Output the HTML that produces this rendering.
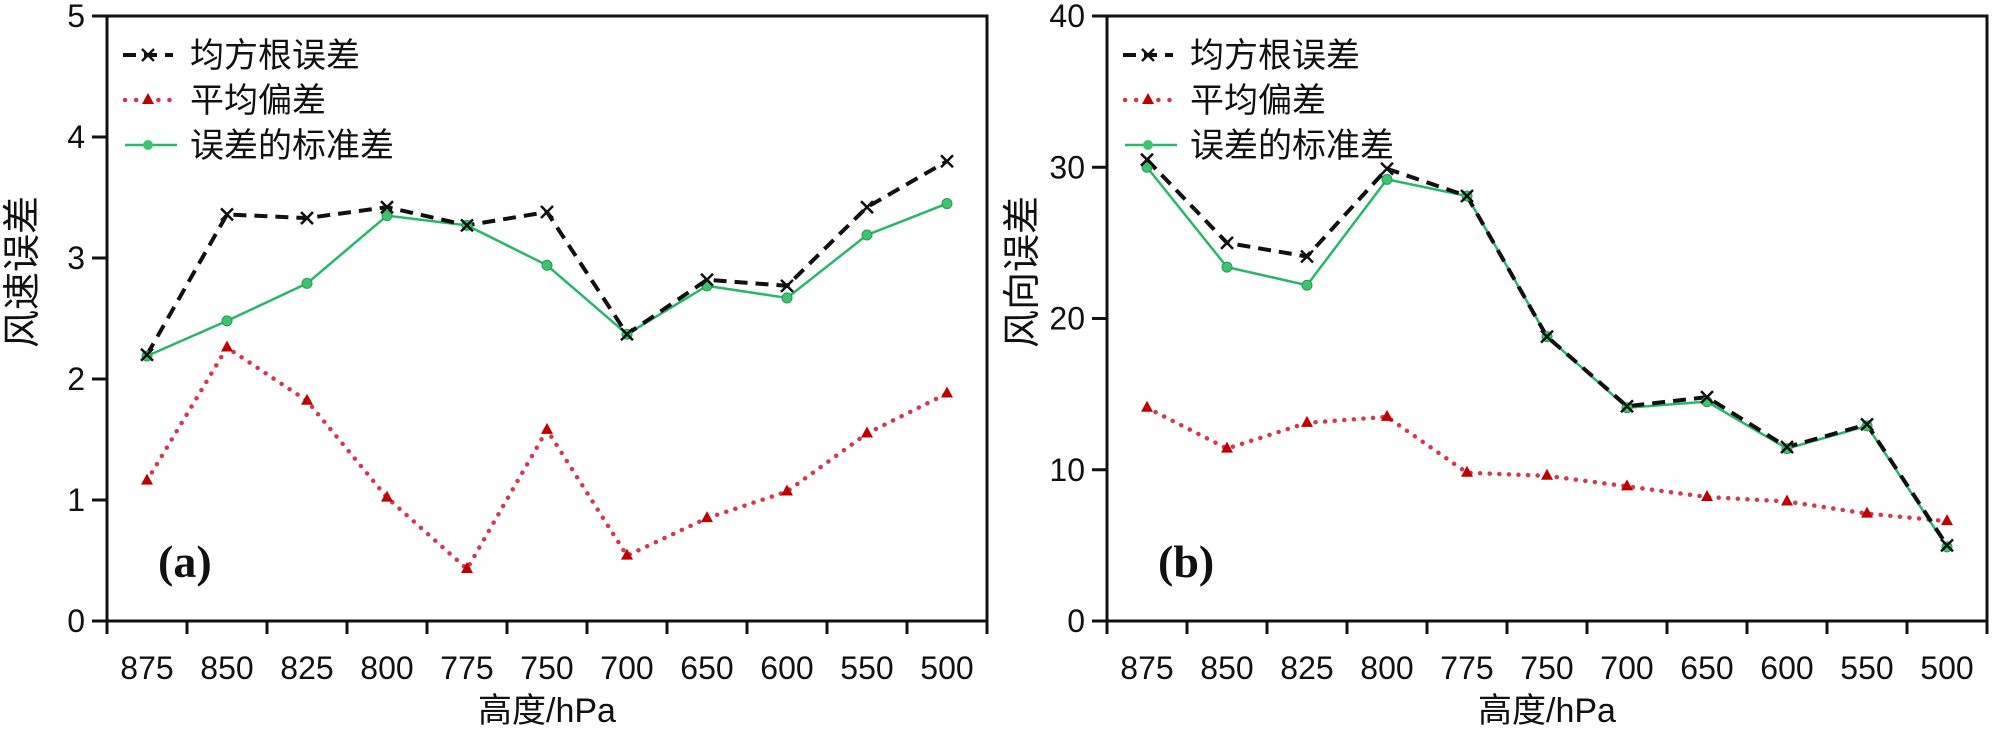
<!DOCTYPE html>
<html><head><meta charset="utf-8">
<style>
html,body{margin:0;padding:0;background:#fff;}
svg{display:block;font-family:"Liberation Sans","Noto Sans CJK SC",sans-serif;}
</style></head>
<body>
<svg id="chart" width="2000" height="732" xmlns="http://www.w3.org/2000/svg"></svg>
<script>
const categories = ["875","850","825","800","775","750","700","650","600","550","500"];
const speedRmse = [2.2,3.36,3.33,3.42,3.27,3.38,2.37,2.82,2.77,3.42,3.8];
const speedBias = [1.16,2.26,1.82,1.02,0.43,1.58,0.54,0.85,1.07,1.55,1.88];
const speedStd  = [2.19,2.48,2.79,3.35,3.27,2.94,2.37,2.77,2.67,3.19,3.45];
const dirRmse = [30.5,25.0,24.1,29.9,28.1,18.8,14.2,14.8,11.5,13.0,5.0];
const dirBias = [14.1,11.4,13.1,13.5,9.8,9.6,8.9,8.2,7.9,7.1,6.6];
const dirStd  = [30.0,23.4,22.2,29.2,28.1,18.8,14.1,14.5,11.4,12.9,4.9];
const speedTicks = [0,1,2,3,4,5];
const dirTicks = [0,10,20,30,40];
const legendLabels = ["均方根误差","平均偏差","误差的标准差"];

const NS="http://www.w3.org/2000/svg";
const svg=document.getElementById('chart');
function mk(tag,attrs,parent){const e=document.createElementNS(NS,tag);for(const k in attrs)e.setAttribute(k,attrs[k]);(parent||svg).appendChild(e);return e;}

function panel(cfg){
  const g=mk('g',{});
  
  
  const L=cfg.left,R=cfg.left+880,T=16,B=621;
  const n=categories.length, step=(R-L)/n;
  const xs=i=>L+step*(i+0.5);
  const ys=v=>B-(v-cfg.min)/(cfg.max-cfg.min)*(B-T);
  // frame
  const fr=mk('rect',{x:L,y:T,width:R-L,height:B-T,fill:'none',stroke:'#111','stroke-width':3},g);
  
  
  // y ticks
  cfg.ticks.forEach(t=>{
    const y=ys(t);
    const tk=mk('line',{x1:L-15,x2:L,y1:y,y2:y,stroke:'#111','stroke-width':3},g);
    
    
    const tl=mk('text',{x:L-22,y:y+11,'text-anchor':'end','font-size':32,fill:'#111'},g);
    tl.textContent=t;
    
    
  });
  // x ticks
  for(let i=0;i<=n;i++){
    const x=L+step*i;
    const tk=mk('line',{x1:x,x2:x,y1:B,y2:B+13,stroke:'#111','stroke-width':3},g);
    
    
  }
  categories.forEach((c,i)=>{
    const tl=mk('text',{x:xs(i),y:679,'text-anchor':'middle','font-size':32,fill:'#111'},g);
    tl.textContent=c;
    
    
  });
  const xt=mk('text',{x:(L+R)/2,y:722,'text-anchor':'middle','font-size':34,fill:'#111'},g);
  xt.textContent='高度/hPa';
  
  
  const yt=mk('text',{x:0,y:0,'text-anchor':'middle','font-size':38,fill:'#111',transform:`translate(${L-72},272) rotate(-90)`},g);
  yt.textContent=cfg.ylabel;
  
  
  const pl=mk('text',{x:L+51,y:577,'font-size':46,'font-weight':'bold','font-family':'"Liberation Serif",serif',fill:'#111'},g);
  pl.textContent=cfg.tag;
  
  
  // series
  const pts=a=>a.map((v,i)=>xs(i)+','+ys(v)).join(' ');
  const bl=mk('polyline',{points:pts(cfg.bias),fill:'none',stroke:'#d23a4c','stroke-width':4.5,'stroke-dasharray':'0.1 9.5','stroke-linecap':'round'},g);
  
  
  cfg.bias.forEach((v,i)=>{
    const x=xs(i),y=ys(v);
    const m=mk('polygon',{points:`${x},${y-7} ${x-6},${y+4} ${x+6},${y+4}`,fill:'#c00000'},g);
    
    
  });
  const sl=mk('polyline',{points:pts(cfg.std),fill:'none',stroke:'#2ab56a','stroke-width':2.5},g);
  
  
  const rl=mk('polyline',{points:pts(cfg.rmse),fill:'none',stroke:'#111','stroke-width':4,'stroke-dasharray':'13 8'},g);
  
  
  cfg.std.forEach((v,i)=>{
    const m=mk('circle',{cx:xs(i),cy:ys(v),r:5,fill:'#3cc46e',stroke:'#2a9a55','stroke-width':1},g);
    
    
  });
  cfg.rmse.forEach((v,i)=>{
    const x=xs(i),y=ys(v);
    const m=mk('path',{d:`M${x-6} ${y-6}L${x+6} ${y+6}M${x-6} ${y+6}L${x+6} ${y-6}`,stroke:'#111','stroke-width':2.5},g);
    
    
  });
  // legend
  const lg=mk('g',{},g);
  
  
  const lx1=L+16,lx2=L+66,lm=L+41,tx=L+83;
  const rows=[55,100,145];
  const e1=mk('line',{x1:lx1,x2:lx2,y1:rows[0],y2:rows[0],stroke:'#111','stroke-width':4,'stroke-dasharray':'13 8'},lg);
  
  
  mk('path',{d:`M${lm-6} ${rows[0]-6}L${lm+6} ${rows[0]+6}M${lm-6} ${rows[0]+6}L${lm+6} ${rows[0]-6}`,stroke:'#111','stroke-width':2.5},lg);
  const e2=mk('line',{x1:lx1+2,x2:lx2+4,y1:rows[1],y2:rows[1],stroke:'#d23a4c','stroke-width':4.5,'stroke-dasharray':'0.1 11','stroke-linecap':'round'},lg);
  
  
  mk('polygon',{points:`${lm},${rows[1]-7} ${lm-6},${rows[1]+4} ${lm+6},${rows[1]+4}`,fill:'#c00000'},lg);
  const e3=mk('line',{x1:lx1+2,x2:lx2+4,y1:rows[2],y2:rows[2],stroke:'#2ab56a','stroke-width':2.5},lg);
  
  
  mk('circle',{cx:lm,cy:rows[2],r:5,fill:'#3cc46e'},lg);
  legendLabels.forEach((t,i)=>{
    const tt=mk('text',{x:tx,y:rows[i]+12,'font-size':34,fill:'#111'},lg);
    tt.textContent=t;
    
    
  });
}
panel({name:'panel-a-wind-speed',left:107,min:0,max:5,ticks:speedTicks,ylabel:'风速误差',tag:'(a)',rmse:speedRmse,bias:speedBias,std:speedStd});
panel({name:'panel-b-wind-direction',left:1107,min:0,max:40,ticks:dirTicks,ylabel:'风向误差',tag:'(b)',rmse:dirRmse,bias:dirBias,std:dirStd});
</script>
</body></html>
